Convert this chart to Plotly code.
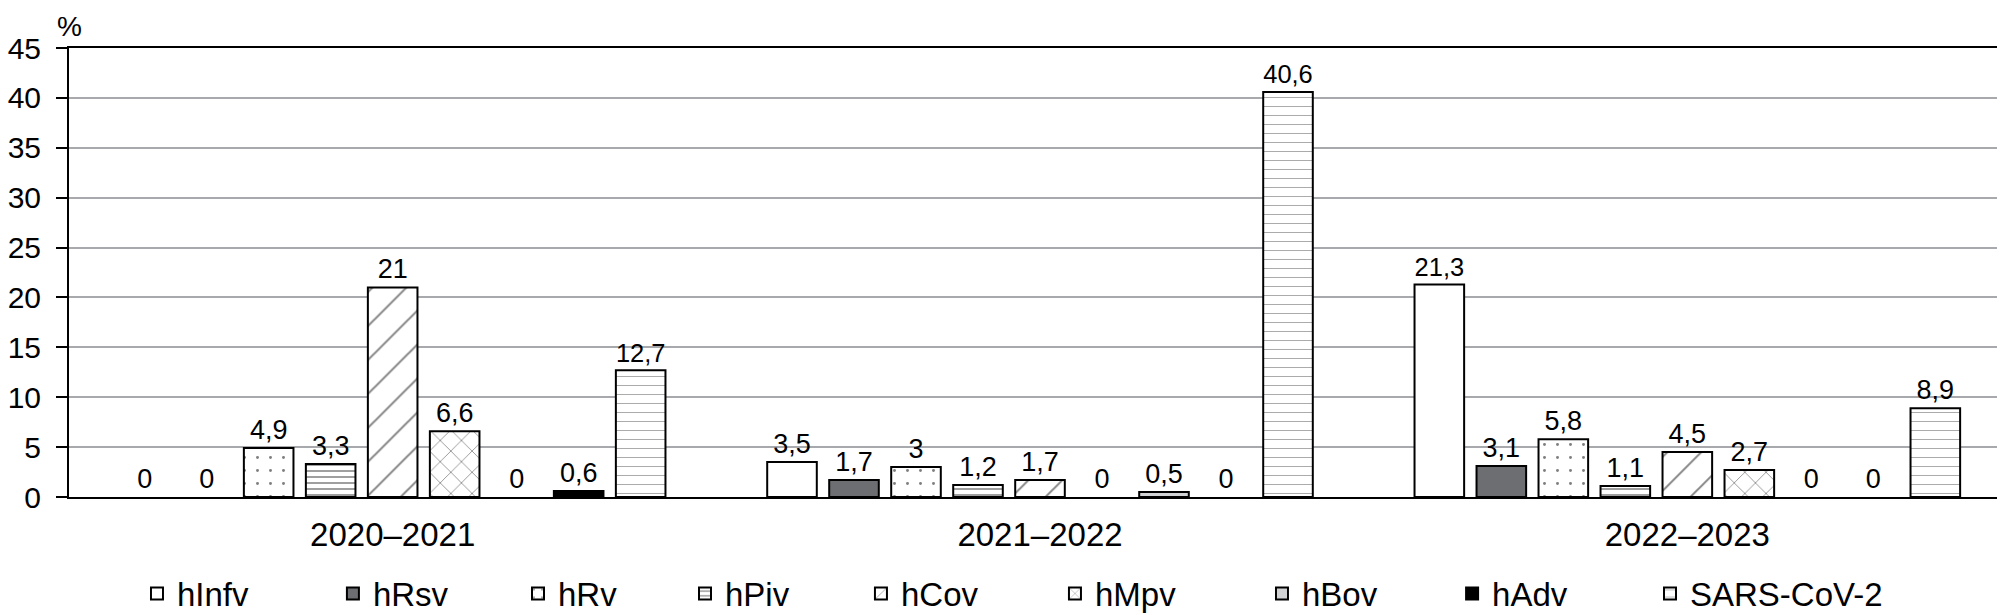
import plotly.graph_objects as go

categories = ["2020–2021", "2021–2022", "2022–2023"]
series_names = ["hInfv", "hRsv", "hRv", "hPiv", "hCov", "hMpv", "hBov", "hAdv", "SARS-CoV-2"]
hInfv = [0, 3.5, 21.3]
hRsv = [0, 1.7, 3.1]
hRv = [4.9, 3, 5.8]
hPiv = [3.3, 1.2, 1.1]
hCov = [21, 1.7, 4.5]
hMpv = [6.6, 0, 2.7]
hBov = [0, 0.5, 0]
hAdv = [0.6, 0, 0]
sars = [12.7, 40.6, 8.9]
y_ticks = [0, 5, 10, 15, 20, 25, 30, 35, 40, 45]

values = [hInfv, hRsv, hRv, hPiv, hCov, hMpv, hBov, hAdv, sars]

# horizontal placement of each legend entry (paper fraction)
legend_x = [0.0350, 0.1359, 0.2312, 0.3172, 0.4078, 0.5077, 0.6143, 0.7122, 0.8141]

styles = [
    dict(color="white", pattern=None),
    dict(color="#6d6e71", pattern=None),
    dict(color="white", pattern=dict(shape=".", size=13, solidity=0.04, fgcolor="black", bgcolor="white")),
    dict(color="white", pattern=dict(shape="-", size=6, solidity=0.25, fgcolor="black", bgcolor="white")),
    dict(color="white", pattern=dict(shape="/", size=24, solidity=0.08, fgcolor="black", bgcolor="white")),
    dict(color="white", pattern=dict(shape="x", size=15, solidity=0.1, fgcolor="black", bgcolor="white")),
    dict(color="#d1d2d4", pattern=None),
    dict(color="black", pattern=None),
    dict(color="white", pattern=dict(shape="-", size=9, solidity=0.1, fgcolor="#444444", bgcolor="white")),
]

fig = go.Figure()
legend_layout = {}
for i, (name, vals, st) in enumerate(zip(series_names, values, styles)):
    # list non-zero points first so the legend swatch takes a visible outline
    order = [k for k in range(len(vals)) if vals[k] > 0] + [k for k in range(len(vals)) if vals[k] == 0]
    xs = [categories[k] for k in order]
    ys = [vals[k] for k in order]
    marker = dict(
        color=st["color"],
        line=dict(color="black", width=[2 if v > 0 else 0 for v in ys]),
    )
    if st["pattern"] is not None:
        marker["pattern"] = st["pattern"]
    lg = "legend" if i == 0 else f"legend{i + 1}"
    fig.add_trace(go.Bar(
        x=xs, y=ys, name=name,
        marker=marker,
        text=[str(v).replace(".", ",") for v in ys],
        textposition="outside",
        textfont=dict(size=27, color="black"),
        cliponaxis=False,
        legend=lg,
    ))
    legend_layout[lg] = dict(
        orientation="h", x=legend_x[i], xanchor="left", y=-0.215, yanchor="middle",
        font=dict(size=33), itemwidth=30, bgcolor="rgba(0,0,0,0)",
    )

fig.update_layout(
    width=2005, height=615,
    margin=dict(l=61, r=2, t=40, b=116),
    paper_bgcolor="white", plot_bgcolor="white",
    font=dict(family="Liberation Sans, Arial, sans-serif", color="black", size=28),
    barmode="group",
    bargap=0.138,
    bargroupgap=0.2,
    showlegend=True,
    **legend_layout,
)

fig.update_xaxes(
    categoryorder="array", categoryarray=categories,
    showline=True, linecolor="black", linewidth=2, mirror=True,
    ticks="", tickfont=dict(size=33), showgrid=False,
    ticklabelstandoff=7, automargin=False,
)
fig.update_yaxes(
    range=[0, 45], tickvals=y_ticks,
    showline=True, linecolor="black", linewidth=2, mirror=True,
    ticks="outside", ticklen=11, tickwidth=2, tickcolor="black",
    tickfont=dict(size=30), ticklabelstandoff=9, automargin=False,
    showgrid=True, gridcolor="#a7a9ac", gridwidth=2,
    zeroline=False,
)

fig.add_annotation(
    text="%", xref="paper", yref="paper", x=0, y=1, xanchor="center", yanchor="bottom",
    yshift=4, showarrow=False, font=dict(size=28),
)

fig.write_html("out.html")
